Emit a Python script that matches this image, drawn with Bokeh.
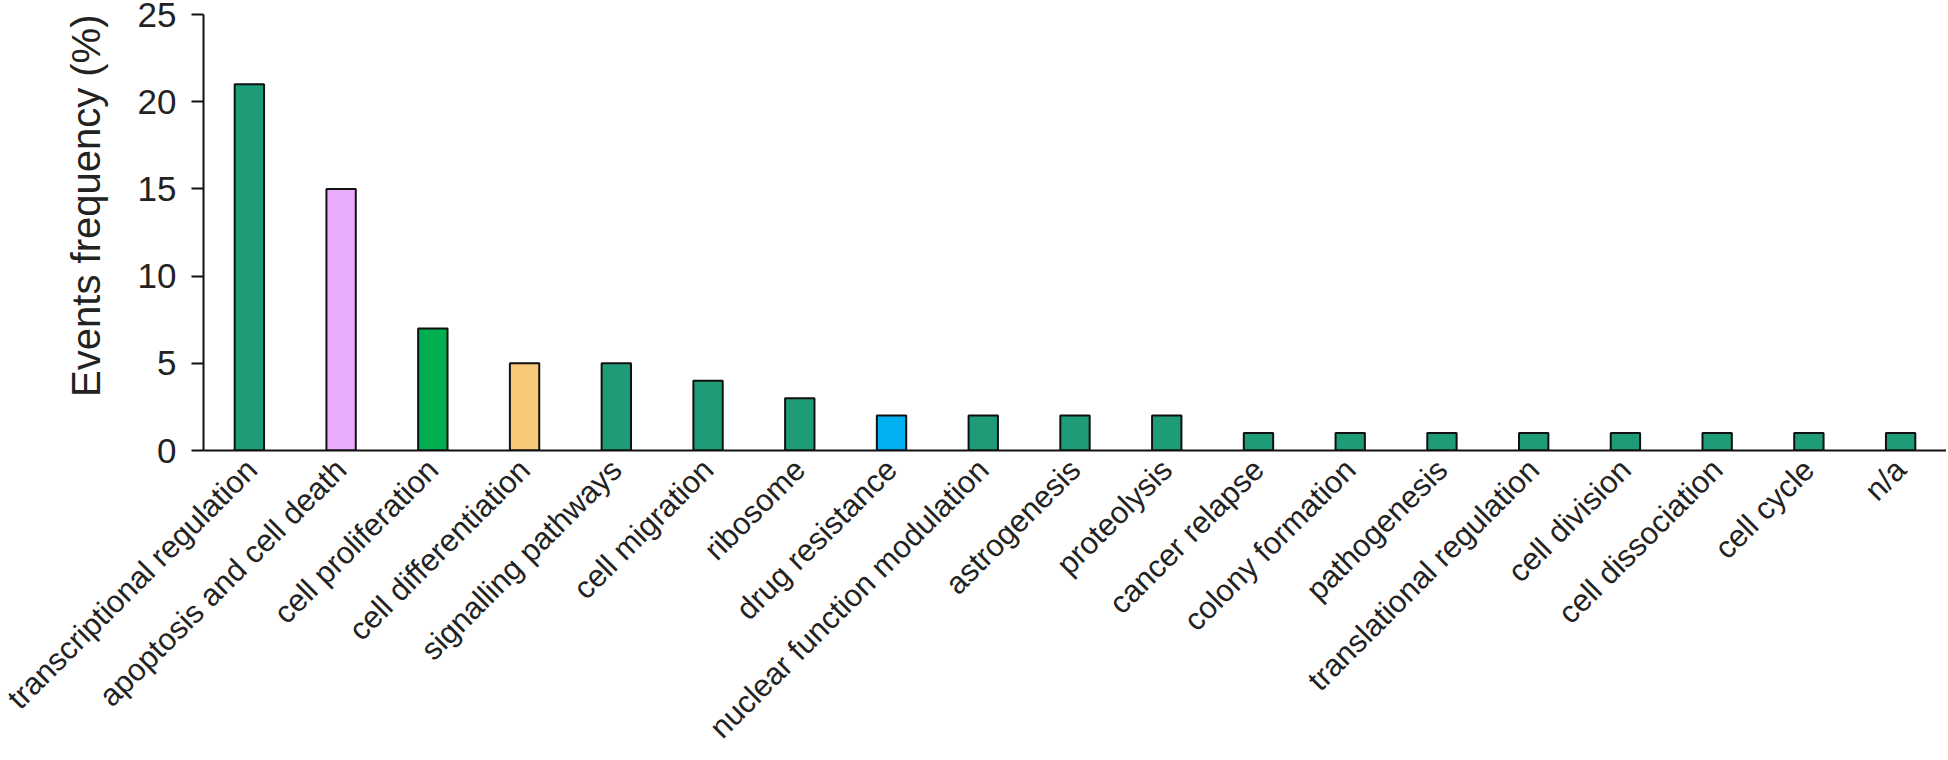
import math
from bokeh.plotting import figure
from bokeh.models import FactorRange, Range1d, ColumnDataSource, FixedTicker, Title
from bokeh.embed import file_html
from bokeh.resources import INLINE

categories = [
    "transcriptional regulation", "apoptosis and cell death", "cell proliferation",
    "cell differentiation", "signalling pathways", "cell migration", "ribosome",
    "drug resistance", "nuclear function modulation", "astrogenesis", "proteolysis",
    "cancer relapse", "colony formation", "pathogenesis", "translational regulation",
    "cell division", "cell dissociation", "cell cycle", "n/a",
]
frequency = [21, 15, 7, 5, 5, 4, 3, 2, 2, 2, 2, 1, 1, 1, 1, 1, 1, 1, 1]
bar_colors = [
    "#1E9C78", "#EAADFC", "#00B050", "#F7C978", "#1E9C78", "#1E9C78", "#1E9C78",
    "#00B0F0", "#1E9C78", "#1E9C78", "#1E9C78", "#1E9C78", "#1E9C78", "#1E9C78",
    "#1E9C78", "#1E9C78", "#1E9C78", "#1E9C78", "#1E9C78",
]
y_ticks = [0, 5, 10, 15, 20, 25]
y_title = "Events frequency (%)"

source = ColumnDataSource(dict(cat=categories, val=frequency, color=bar_colors))

FONT = "Liberation Sans"

p = figure(
    x_range=FactorRange(*categories, range_padding=0),
    y_range=Range1d(0, 25),
    width=1946, height=760,
    min_border_left=203, min_border_right=0, min_border_top=14, min_border_bottom=309,
    output_backend="svg", toolbar_location=None,
)

p.vbar(x="cat", top="val", width=0.32, source=source,
       fill_color="color", line_color="#111111", line_width=2)

p.xgrid.grid_line_color = None
p.ygrid.grid_line_color = None
p.outline_line_color = None
p.background_fill_color = "white"

# y axis
p.yaxis.ticker = FixedTicker(ticks=y_ticks)
p.yaxis.minor_tick_line_color = None
p.yaxis.major_tick_out = 12
p.yaxis.major_tick_in = 0
p.yaxis.major_tick_line_width = 2
p.yaxis.major_tick_line_color = "#111111"
p.yaxis.axis_line_width = 2
p.yaxis.axis_line_color = "#111111"
p.yaxis.major_label_text_font = FONT
p.yaxis.major_label_text_font_size = "35px"
p.yaxis.major_label_text_color = "#222222"
p.yaxis.major_label_standoff = 15

# y title, aligned toward the top of the frame as in the reference
p.add_layout(Title(
    text=y_title, align="right", offset=0, standoff=54,
    text_font=FONT, text_font_size="40px", text_font_style="normal",
    text_color="#222222",
), "left")

# x axis
p.xaxis.major_tick_line_color = None
p.xaxis.minor_tick_line_color = None
p.xaxis.axis_line_width = 2
p.xaxis.axis_line_color = "#111111"
p.xaxis.major_label_orientation = math.pi / 4
p.xaxis.major_label_text_font = FONT
p.xaxis.major_label_text_font_size = "31px"
p.xaxis.major_label_text_color = "#222222"
p.xaxis.major_label_standoff = 8

open("out.html", "w").write(file_html(p, INLINE))
